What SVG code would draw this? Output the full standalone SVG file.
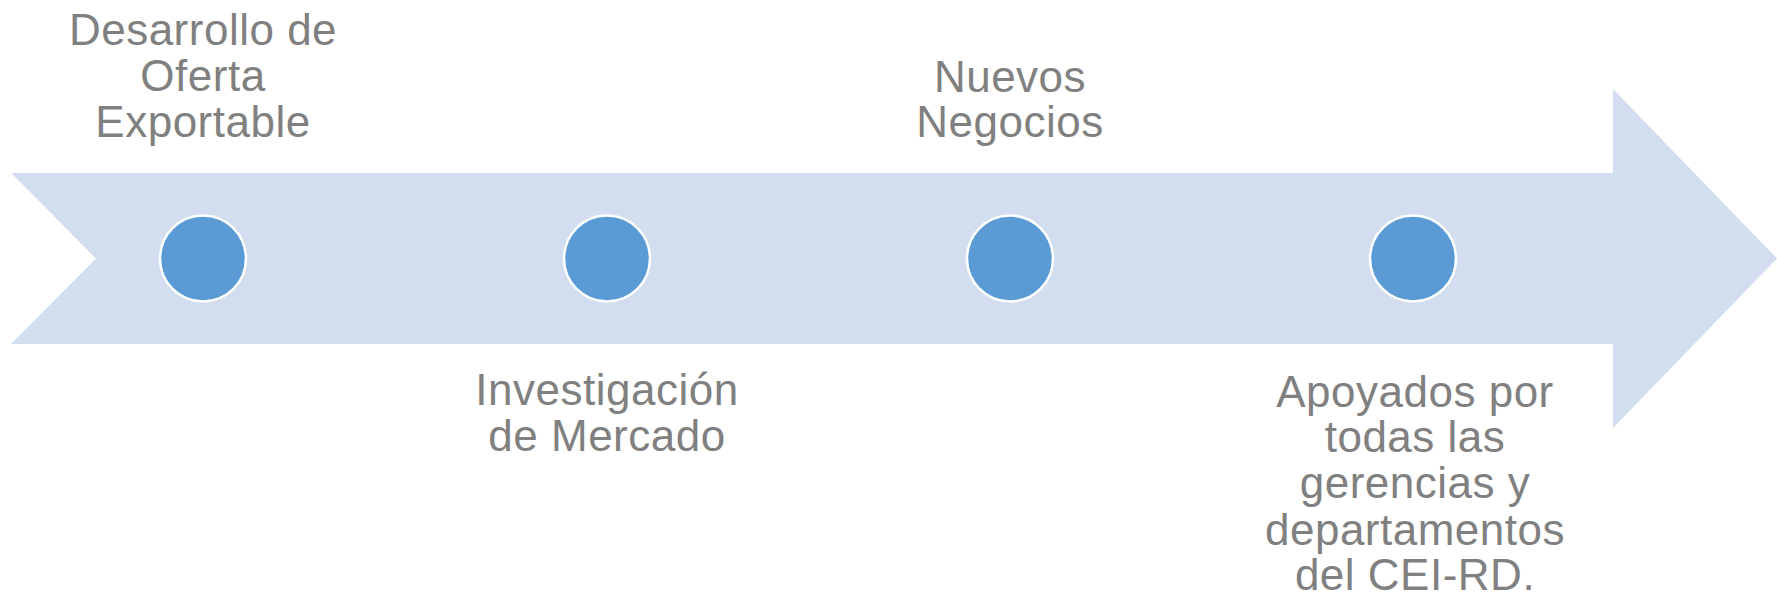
<svg xmlns="http://www.w3.org/2000/svg" width="1777" height="597" viewBox="0 0 1777 597">
<style>
.lbl{font-family:"Liberation Sans",Arial,sans-serif;font-size:44px;fill:#808080;text-anchor:middle;letter-spacing:0.5px}
.dot{fill:#5b9bd5;stroke:#ffffff;stroke-width:2.5}
</style>
<rect width="1777" height="597" fill="#ffffff"/>
<g id="arrow">
<polygon points="11,173 1613,173 1613,89 1777,258.5 1613,428 1613,344 11,344 96,258.5" fill="#d2deef"/>
</g>
<g id="connectors"></g>
<g id="node1">
<circle class="dot" cx="203" cy="258.5" r="43"/>
<text class="lbl" x="203" y="45">Desarrollo de</text>
<text class="lbl" x="203" y="91">Oferta</text>
<text class="lbl" x="203" y="137">Exportable</text>
</g>
<g id="node2">
<circle class="dot" cx="607" cy="258.5" r="43"/>
<text class="lbl" x="607" y="405">Investigación</text>
<text class="lbl" x="607" y="451">de Mercado</text>
</g>
<g id="node3">
<circle class="dot" cx="1010" cy="258.5" r="43"/>
<text class="lbl" x="1010" y="92">Nuevos</text>
<text class="lbl" x="1010" y="137">Negocios</text>
</g>
<g id="node4">
<circle class="dot" cx="1413" cy="258.5" r="43"/>
<text class="lbl" x="1415" y="407">Apoyados por</text>
<text class="lbl" x="1415" y="452">todas las</text>
<text class="lbl" x="1415" y="498">gerencias y</text>
<text class="lbl" x="1415" y="545">departamentos</text>
<text class="lbl" x="1415" y="590">del CEI-RD.</text>
</g>
</svg>
